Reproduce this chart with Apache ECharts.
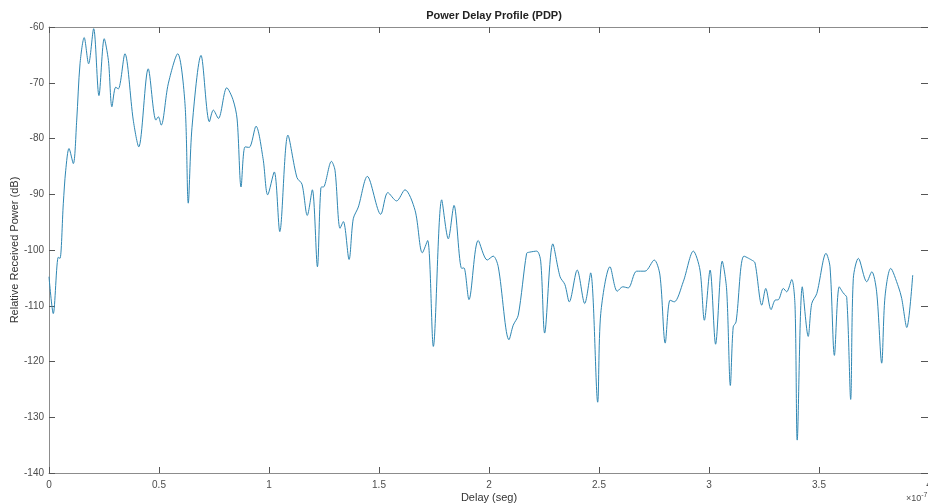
<!DOCTYPE html>
<html>
<head>
<meta charset="utf-8">
<script src="https://cdn.jsdelivr.net/npm/echarts@6/dist/echarts.min.js"></script>
<style>html,body{margin:0;padding:0;background:#fff;}#c{width:928px;height:504px;}</style>
</head>
<body>
<div id="c"></div>
<script>
// Delay in units of 1e-7 s
const delay = [0.000,0.0195,0.0423,0.050,0.065,0.076,0.0909,0.1105,0.126,0.141,0.160,0.180,0.203,0.227,0.251,0.270,0.286,0.303,0.315,0.345,0.383,0.408,0.451,0.486,0.497,0.510,0.542,0.585,0.618,0.633,0.650,0.691,0.729,0.747,0.770,0.808,0.836,0.855,0.873,0.891,0.910,0.941,0.973,0.994,1.024,1.049,1.086,1.127,1.150,1.174,1.197,1.220,1.236,1.251,1.284,1.300,1.323,1.338,1.364,1.383,1.406,1.447,1.508,1.540,1.580,1.618,1.664,1.697,1.721,1.747,1.785,1.815,1.841,1.876,1.886,1.909,1.951,1.992,2.019,2.042,2.091,2.110,2.133,2.171,2.183,2.217,2.235,2.253,2.290,2.323,2.345,2.365,2.401,2.435,2.462,2.494,2.508,2.550,2.583,2.608,2.633,2.671,2.709,2.751,2.777,2.801,2.823,2.842,2.883,2.929,2.959,2.979,3.005,3.030,3.060,3.080,3.097,3.110,3.123,3.159,3.194,3.209,3.240,3.258,3.282,3.300,3.316,3.338,3.353,3.376,3.391,3.401,3.424,3.451,3.467,3.490,3.532,3.550,3.570,3.592,3.610,3.626,3.644,3.656,3.679,3.717,3.740,3.762,3.785,3.800,3.826,3.861,3.876,3.899,3.926];
// Relative received power in dB
const power = [-104.8,-111.4,-101.3,-101.5,-91.7,-85.7,-81.8,-84.5,-76.7,-66.6,-61.9,-66.6,-60.3,-72.3,-62.1,-66.0,-74.3,-70.8,-71.1,-64.8,-76.7,-81.5,-67.5,-76.7,-76.1,-77.6,-70.2,-64.8,-73.7,-91.6,-78.0,-65.1,-77.0,-74.9,-76.4,-70.9,-73.0,-76.5,-88.7,-81.5,-81.6,-77.8,-83.6,-90.1,-86.0,-96.7,-79.4,-87.0,-88.2,-93.8,-89.2,-103.0,-88.8,-88.6,-84.1,-85.7,-96.1,-94.9,-101.7,-94.4,-92.3,-86.8,-93.6,-89.7,-91.2,-89.2,-92.9,-100.5,-98.3,-117.3,-91.0,-98.0,-92.0,-103.3,-103.2,-108.9,-98.3,-101.8,-101.1,-103.0,-116.1,-113.5,-111.7,-100.6,-100.4,-100.2,-102.0,-114.9,-98.9,-104.8,-106.2,-109.3,-103.6,-109.6,-104.1,-127.3,-111.4,-103.0,-107.4,-106.6,-106.8,-103.8,-103.8,-101.8,-104.5,-116.7,-109.0,-109.3,-105.7,-100.2,-103.6,-112.6,-103.6,-116.9,-102.0,-107.0,-124.3,-113.8,-112.9,-101.1,-101.8,-102.3,-109.9,-106.9,-110.7,-109.0,-108.9,-106.9,-107.5,-105.3,-110.0,-134.1,-106.6,-115.5,-109.6,-107.8,-100.6,-103.0,-118.9,-106.6,-107.7,-108.5,-126.8,-105.1,-101.5,-105.7,-103.9,-107.5,-120.3,-108.4,-103.3,-106.6,-108.7,-113.9,-104.5];
const xTicks = ['0','0.5','1','1.5','2','2.5','3','3.5','4'];
const yTicks = ['-140','-130','-120','-110','-100','-90','-80','-70','-60'];

const chart = echarts.init(document.getElementById('c'), null, {renderer:'canvas'});
const font = 'Liberation Sans, Arial, Helvetica, sans-serif';
const lineCol = '#8c8c8c';
const tickCol = '#555';
const labelCol = '#4d4d4d';
const pts = delay.map((d,i)=>[d, power[i]]);

chart.setOption({
  animation:false,
  backgroundColor:'#fff',
  title:{text:'Power Delay Profile (PDP)', left:489, top:5, textAlign:'center',
    textStyle:{fontFamily:font, fontSize:11, fontWeight:'bold', color:'#222'}},
  grid:{left:49, top:27, width:880, height:446, containLabel:false, outerBoundsMode:'none'},
  xAxis:[{
    type:'value', min:0, max:4, interval:0.5, position:'bottom',
    axisLine:{show:true, onZero:false, lineStyle:{color:lineCol, width:1}},
    axisTick:{show:true, inside:true, length:6, lineStyle:{color:tickCol}},
    axisLabel:{color:labelCol, fontFamily:font, fontSize:10, margin:7,
      formatter:(v)=>{const i=Math.round(v/0.5); return xTicks[i]!==undefined?xTicks[i]:'';}},
    splitLine:{show:false},
    name:'Delay (seg)', nameLocation:'middle', nameGap:19, nameMoveOverlap:false,
    nameTextStyle:{color:'#333', fontFamily:font, fontSize:11}
  },{
    type:'value', min:0, max:4, interval:0.5, position:'top',
    axisLine:{show:true, onZero:false, lineStyle:{color:lineCol, width:1}},
    axisTick:{show:true, inside:true, length:6, lineStyle:{color:tickCol}},
    axisLabel:{show:false}, splitLine:{show:false}
  }],
  yAxis:[{
    type:'value', min:-140, max:-60, interval:10, position:'left',
    axisLine:{show:true, onZero:false, lineStyle:{color:lineCol, width:1}},
    axisTick:{show:true, inside:true, length:6, lineStyle:{color:tickCol}},
    axisLabel:{color:labelCol, fontFamily:font, fontSize:10, margin:5,
      formatter:(v)=>{const i=Math.round((v+140)/10); return yTicks[i]!==undefined?yTicks[i]:'';}},
    splitLine:{show:false},
    name:'Relative Received Power (dB)', nameLocation:'middle', nameGap:29, nameRotate:90, nameMoveOverlap:false,
    nameTextStyle:{color:'#333', fontFamily:font, fontSize:11}
  },{
    type:'value', min:-140, max:-60, interval:10, position:'right',
    axisLine:{show:true, onZero:false, lineStyle:{color:lineCol, width:1}},
    axisTick:{show:true, inside:true, length:8, lineStyle:{color:tickCol}},
    axisLabel:{show:false}, splitLine:{show:false}
  }],
  series:[{
    type:'line', data:pts, xAxisIndex:0, yAxisIndex:0,
    showSymbol:false, smooth:0.3,
    lineStyle:{color:'#2f87b3', width:1}
  }],
  graphic:[{
    type:'text', left:906, top:492,
    style:{text:'×10{s|-7}', rich:{s:{fontSize:7, verticalAlign:'top', padding:[0,0,6,0], fill:labelCol, fontFamily:font}},
      fill:labelCol, fontFamily:font, fontSize:9}
  }]
});
</script>
</body>
</html>
